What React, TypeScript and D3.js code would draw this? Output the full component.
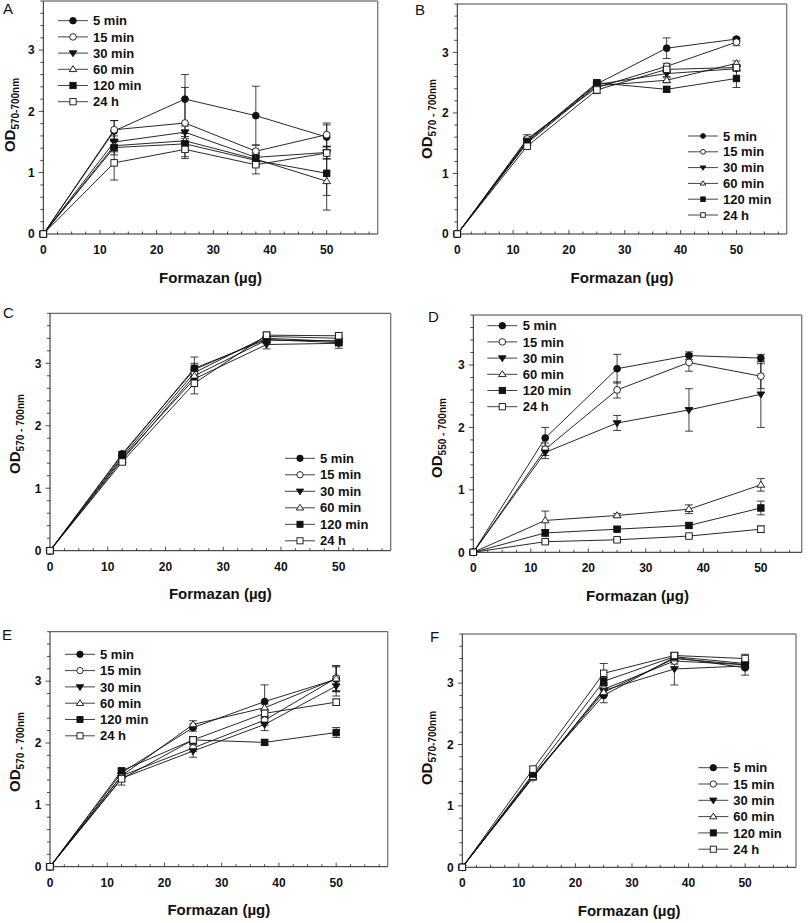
import React from "react";
import * as d3 from "d3";

// ---------- data ----------
const doses = [0, 12.5, 25, 37.5, 50];
const seriesNames = ["5 min", "15 min", "30 min", "60 min", "120 min", "24 h"];
const xTickLabels = [0, 10, 20, 30, 40, 50];
const yTickLabels = [0, 1, 2, 3];

const valuesA = [
  [0, 1.68, 2.2, 1.93, 1.58],
  [0, 1.7, 1.81, 1.35, 1.62],
  [0, 1.5, 1.66, 1.25, 1.33],
  [0, 1.44, 1.52, 1.22, 0.86],
  [0, 1.41, 1.47, 1.2, 0.99],
  [0, 1.16, 1.38, 1.13, 1.32],
];
const errorsA = [
  [0, 0.17, 0.4, 0.48, 0.2],
  [0, 0.15, 0.58, 0.1, 0.19],
  [0, 0.1, 0.1, 0.08, 0.1],
  [0, 0.1, 0.12, 0.1, 0.47],
  [0, 0.12, 0.12, 0.1, 0.36],
  [0, 0.28, 0.12, 0.15, 0.1],
];

const valuesB = [
  [0, 1.55, 2.48, 3.07, 3.22],
  [0, 1.57, 2.42, 2.77, 3.17],
  [0, 1.52, 2.47, 2.65, 2.73],
  [0, 1.5, 2.45, 2.54, 2.82],
  [0, 1.53, 2.5, 2.39, 2.57],
  [0, 1.45, 2.38, 2.72, 2.75],
];
const errorsB = [
  [0, 0.05, 0.03, 0.17, 0.03],
  [0, 0.07, 0.03, 0.05, 0.06],
  [0, 0.04, 0.03, 0.05, 0.04],
  [0, 0.04, 0.03, 0.04, 0.04],
  [0, 0.04, 0.04, 0.04, 0.15],
  [0, 0.04, 0.06, 0.04, 0.05],
];

const valuesC = [
  [0, 1.55, 2.9, 3.4, 3.35],
  [0, 1.5, 2.85, 3.43, 3.4],
  [0, 1.48, 2.75, 3.3, 3.32],
  [0, 1.45, 2.8, 3.37, 3.36],
  [0, 1.53, 2.92, 3.38, 3.33],
  [0, 1.42, 2.68, 3.45, 3.44],
];
const errorsC = [
  [0, 0.04, 0.1, 0.05, 0.05],
  [0, 0.04, 0.08, 0.05, 0.05],
  [0, 0.05, 0.08, 0.07, 0.08],
  [0, 0.04, 0.08, 0.05, 0.05],
  [0, 0.05, 0.18, 0.05, 0.05],
  [0, 0.04, 0.17, 0.05, 0.05],
];

const valuesD = [
  [0, 1.83, 2.94, 3.15, 3.11],
  [0, 1.65, 2.6, 3.04, 2.82],
  [0, 1.6, 2.07, 2.28, 2.53],
  [0, 0.51, 0.59, 0.69, 1.08],
  [0, 0.31, 0.37, 0.43, 0.71],
  [0, 0.17, 0.2, 0.26, 0.37],
];
const errorsD = [
  [0, 0.17, 0.23, 0.06, 0.06],
  [0, 0.1, 0.13, 0.14, 0.2],
  [0, 0.1, 0.12, 0.34, 0.53],
  [0, 0.15, 0.03, 0.07, 0.1],
  [0, 0.05, 0.03, 0.04, 0.11],
  [0, 0.02, 0.02, 0.02, 0.05],
];

const valuesE = [
  [0, 1.52, 2.25, 2.67, 3.03],
  [0, 1.47, 1.92, 2.37, 3.05],
  [0, 1.43, 1.87, 2.3, 2.92],
  [0, 1.47, 2.3, 2.57, 3.04],
  [0, 1.55, 2.05, 2.01, 2.17],
  [0, 1.42, 2.05, 2.48, 2.66],
];
const errorsE = [
  [0, 0.04, 0.06, 0.27, 0.2],
  [0, 0.04, 0.06, 0.08, 0.2],
  [0, 0.05, 0.1, 0.1, 0.16],
  [0, 0.04, 0.06, 0.06, 0.21],
  [0, 0.04, 0.05, 0.04, 0.08],
  [0, 0.1, 0.05, 0.06, 0.05],
];

const valuesF = [
  [0, 1.5, 2.8, 3.42, 3.25],
  [0, 1.46, 2.9, 3.36, 3.3],
  [0, 1.48, 2.88, 3.23, 3.28],
  [0, 1.47, 2.85, 3.4, 3.3],
  [0, 1.52, 3.03, 3.43, 3.32],
  [0, 1.6, 3.16, 3.45, 3.4],
];
const errorsF = [
  [0, 0.04, 0.12, 0.05, 0.12],
  [0, 0.04, 0.06, 0.05, 0.05],
  [0, 0.04, 0.08, 0.26, 0.05],
  [0, 0.04, 0.06, 0.05, 0.05],
  [0, 0.04, 0.06, 0.05, 0.05],
  [0, 0.04, 0.16, 0.05, 0.07],
];

const panelLabels = ["A", "B", "C", "D", "E", "F"];
const yTitleSubs = ["570-700nm", "570 - 700nm", "570 - 700nm", "550 - 700nm", "570 - 700nm", "570-700nm"];
const xTitle = "Formazan (µg)";

// ---------- layout ----------
const layouts = [
  { l: 43.3, r: 377.7, t: 1, b: 234, xMax: 59, lab: [3, 14], ytx: 15, yty: 115, leg: [58, 88, 93, 20.7, 16.2], ls: 3.3 },
  { l: 457.3, r: 786.7, t: 4, b: 234, xMax: 59, lab: [415, 15], ytx: 432, yty: 119, leg: [688, 718, 723, 136, 15.8], ls: 2.4 },
  { l: 50, r: 390.7, t: 313.3, b: 550.7, xMax: 59, lab: [3, 318], ytx: 20, yty: 434, leg: [285, 315, 320, 458.3, 16.5], ls: 3.2 },
  { l: 473.3, r: 801.7, t: 315, b: 552.3, xMax: 57.1, lab: [428, 322], ytx: 442, yty: 438, leg: [487.3, 517.3, 522.7, 325.7, 16.2], ls: 3.3 },
  { l: 50, r: 387.7, t: 631.7, b: 866.7, xMax: 59, lab: [2, 640], ytx: 20, yty: 752, leg: [65, 95, 100, 654.3, 16.3], ls: 3.2 },
  { l: 462.3, r: 796, t: 634, b: 867.3, xMax: 59, lab: [430, 642], ytx: 432, yty: 748, leg: [698.3, 728.3, 733.3, 767.7, 16.3], ls: 3.2 },
];

const allValues = [valuesA, valuesB, valuesC, valuesD, valuesE, valuesF];
const allErrors = [errorsA, errorsB, errorsC, errorsD, errorsE, errorsF];

const FONT = "'Liberation Sans', Arial, Helvetica, sans-serif";
const INK = "#111";

function Marker({ kind, x, y, s }: { kind: number; x: number; y: number; s: number }) {
  const filled = kind % 2 === 0;
  const fill = filled ? INK : "#fff";
  const sw = 0.9;
  if (kind === 0 || kind === 1) {
    return <circle cx={x} cy={y} r={s} fill={fill} stroke={INK} strokeWidth={sw} />;
  }
  if (kind === 4 || kind === 5) {
    const h = s * 0.95;
    return <rect x={x - h} y={y - h} width={2 * h} height={2 * h} fill={fill} stroke={INK} strokeWidth={sw} />;
  }
  const a = s * 1.15;
  if (kind === 2) {
    const p = `M${x - a},${y - a * 0.6}L${x + a},${y - a * 0.6}L${x},${y + a * 0.95}Z`;
    return <path d={p} fill={fill} stroke={INK} strokeWidth={sw} />;
  }
  const p = `M${x - a},${y + a * 0.6}L${x + a},${y + a * 0.6}L${x},${y - a * 0.95}Z`;
  return <path d={p} fill={fill} stroke={INK} strokeWidth={sw} />;
}

function Panel({ idx }: { idx: number }) {
  const L = layouts[idx];
  const values = allValues[idx];
  const errors = allErrors[idx];
  const x = d3.scaleLinear().domain([0, L.xMax]).range([L.l, L.r]);
  const y = d3.scaleLinear().domain([0, 3.8]).range([L.b, L.t]);
  const line = d3
    .line<number>()
    .x((_, i) => x(doses[i]))
    .y((v) => y(v));
  const xMinor = d3.range(0, L.xMax, 2.5);
  const yMinor = d3.range(0, 3.81, 0.2);
  const [lx1, lx2, ltx, ly0, ldy] = L.leg;
  return (
    <g>
      {/* frame */}
      <line x1={L.l} x2={L.r} y1={L.t} y2={L.t} stroke="#444" strokeWidth={1} />
      <line x1={L.r} x2={L.r} y1={L.t} y2={L.b} stroke="#777" strokeWidth={1.3} />
      <line x1={L.l} x2={L.l} y1={L.t} y2={L.b} stroke="#222" strokeWidth={1} />
      <line x1={L.l} x2={L.r} y1={L.b} y2={L.b} stroke="#222" strokeWidth={1} />
      {/* x ticks (inward) */}
      {xMinor.map((t) => {
        const major = Math.abs(t % 10) < 1e-6;
        return <line key={"xm" + t} x1={x(t)} x2={x(t)} y1={L.b} y2={L.b - (major ? 4 : 2.5)} stroke="#222" strokeWidth={0.8} />;
      })}
      {xTickLabels.map((t) => (
        <text key={"xl" + t} x={x(t)} y={L.b + 20} textAnchor="middle" fontFamily={FONT} fontWeight="bold" fontSize={12} fill={INK}>
          {t}
        </text>
      ))}
      {/* y ticks (outward) */}
      {yMinor.map((t) => {
        const major = Math.abs(t - Math.round(t)) < 1e-6;
        return <line key={"ym" + t} x1={L.l} x2={L.l - (major ? 4.5 : 3)} y1={y(t)} y2={y(t)} stroke="#222" strokeWidth={0.8} />;
      })}
      {yTickLabels.map((t) => (
        <text key={"yl" + t} x={L.l - 8.5} y={y(t) + 4.3} textAnchor="end" fontFamily={FONT} fontWeight="bold" fontSize={12} fill={INK}>
          {t}
        </text>
      ))}
      {/* titles */}
      <text x={(L.l + L.r) / 2} y={L.b + 48.5} textAnchor="middle" fontFamily={FONT} fontWeight="bold" fontSize={15} fill={INK}>
        {xTitle}
      </text>
      <text transform={`translate(${L.ytx},${L.yty}) rotate(-90)`} textAnchor="middle" fontFamily={FONT} fontWeight="bold" fontSize={15} fill={INK}>
        OD
        <tspan fontSize={10} dy={4}>
          {yTitleSubs[idx]}
        </tspan>
      </text>
      <text x={L.lab[0]} y={L.lab[1]} fontFamily={FONT} fontSize={15} fill={INK}>
        {panelLabels[idx]}
      </text>
      {/* series */}
      {values.map((vals, s) => (
        <g key={"s" + s}>
          <path d={line(vals) || ""} fill="none" stroke={INK} strokeWidth={0.9} />
          {vals.map((v, i) => {
            const e = errors[s][i];
            if (e <= 0) return null;
            const cx = x(doses[i]);
            return (
              <g key={"e" + i} stroke={INK} strokeWidth={0.8}>
                <line x1={cx} x2={cx} y1={y(v - e)} y2={y(v + e)} />
                <line x1={cx - 4} x2={cx + 4} y1={y(v + e)} y2={y(v + e)} />
                <line x1={cx - 4} x2={cx + 4} y1={y(v - e)} y2={y(v - e)} />
              </g>
            );
          })}
        </g>
      ))}
      {values.map((vals, s) => (
        <g key={"m" + s}>
          {vals.map((v, i) => (
            <Marker key={i} kind={s} x={x(doses[i])} y={y(v)} s={3.4} />
          ))}
        </g>
      ))}
      {/* legend */}
      {seriesNames.map((name, s) => {
        const ly = ly0 + s * ldy;
        return (
          <g key={"lg" + s}>
            <line x1={lx1} x2={lx2} y1={ly} y2={ly} stroke="#444" strokeWidth={1} />
            <Marker kind={s} x={(lx1 + lx2) / 2} y={ly} s={L.ls} />
            <text x={ltx} y={ly + 4.6} fontFamily={FONT} fontWeight="bold" fontSize={13} fill={INK}>
              {name}
            </text>
          </g>
        );
      })}
    </g>
  );
}

export default function App() {
  return (
    <svg
      width={812}
      height={923}
      viewBox="0 0 812 923"
      style={{ position: "absolute", left: 0, top: 0, display: "block", background: "#fff" }}
    >
      <rect x={0} y={0} width={812} height={923} fill="#fff" />
      {layouts.map((_, i) => (
        <Panel key={i} idx={i} />
      ))}
    </svg>
  );
}
